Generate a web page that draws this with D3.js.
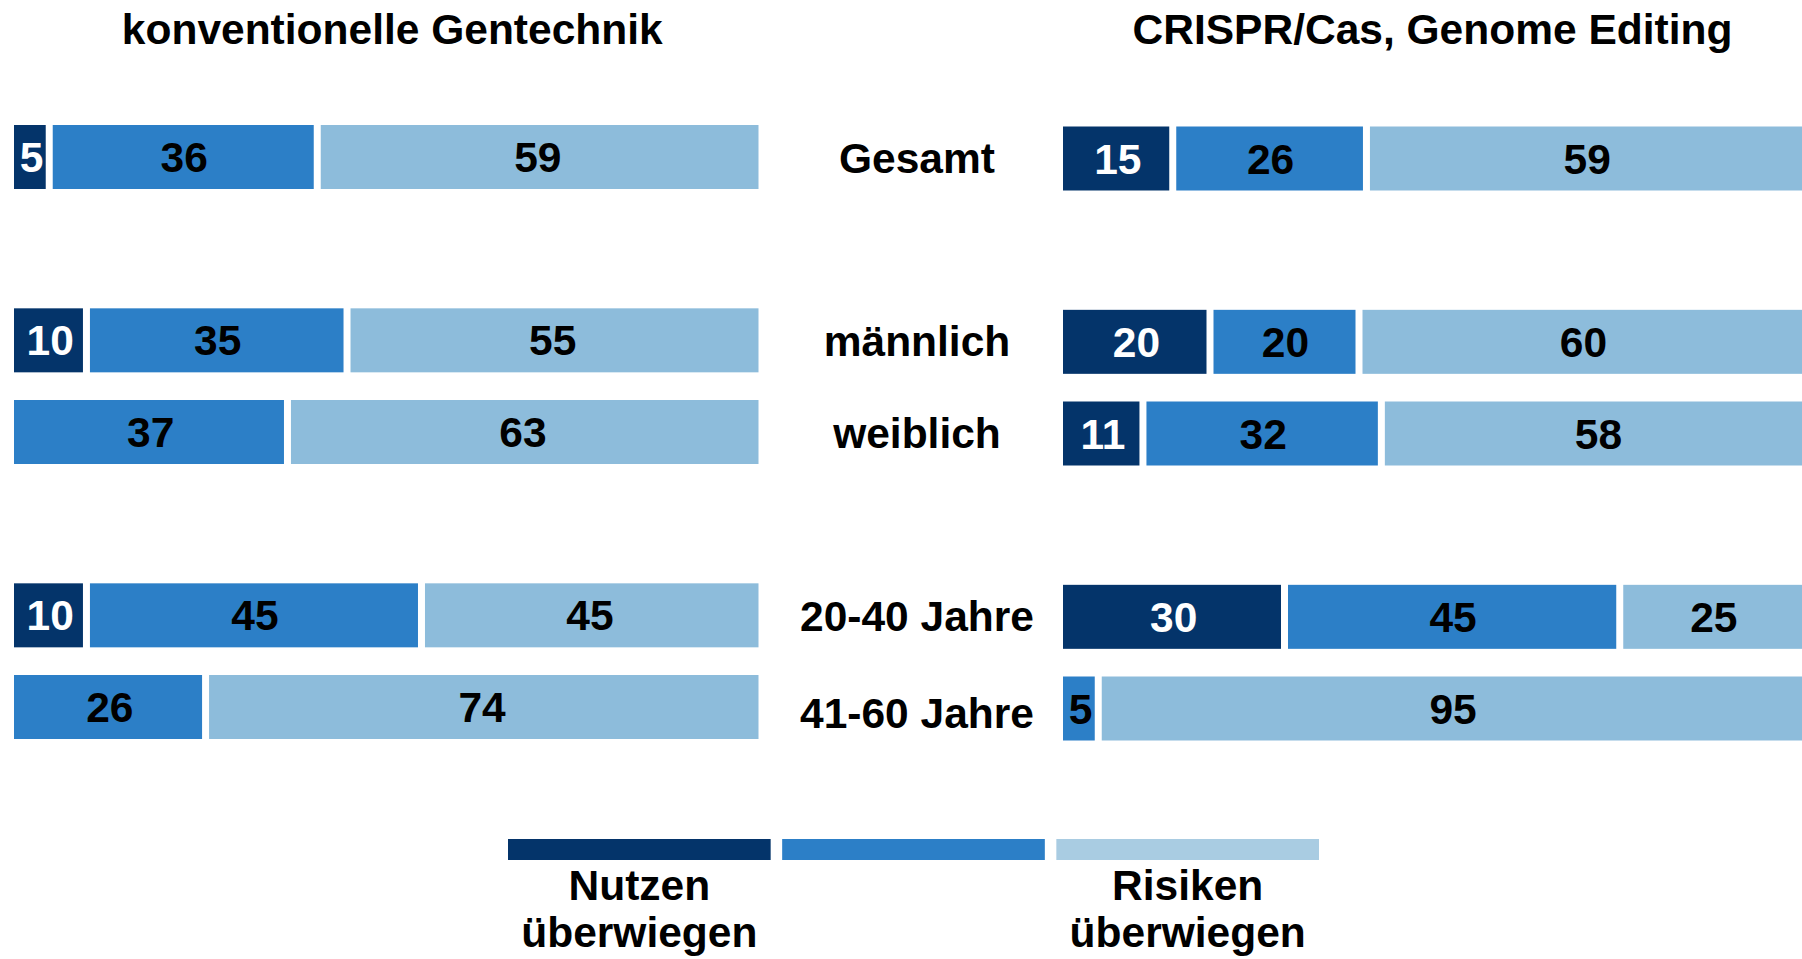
<!DOCTYPE html>
<html>
<head>
    <meta charset="utf-8">
    <style>
        body { margin: 0; background: #fff; }
        text { font-family: "Liberation Sans", Arial, Helvetica, sans-serif; font-weight: bold; }
    </style>
</head>
<body>
    <svg width="1802" height="959"></svg>

<script src="https://d3js.org/d3.v7.min.js"></script>
<script>
    // rows, with the empty slots between the groups
    const groups = ["Gesamt", "männlich", "weiblich", "20-40 Jahre", "41-60 Jahre"];
    const rowSlots = [0, 2, 3, 5, 6];

    // konventionelle Gentechnik (percent)
    const konvNutzen = [5, 10, 0, 10, 0];
    const konvMitte = [36, 35, 37, 45, 26];
    const konvRisiken = [59, 55, 63, 45, 74];

    // CRISPR/Cas, Genome Editing (percent)
    const crisprNutzen = [15, 20, 11, 30, 0];
    const crisprMitte = [26, 20, 32, 45, 5];
    const crisprRisiken = [59, 60, 58, 25, 95];

    const panelTitles = ["konventionelle Gentechnik", "CRISPR/Cas, Genome Editing"];
    const legendLabels = [["Nutzen", "überwiegen"], [], ["Risiken", "überwiegen"]];

    const colors = ["#04346a", "#2c7fc7", "#8dbcdb"];
    const legendColors = ["#04346a", "#2c7fc7", "#a9cce2"];
    const labelColors = ["#fff", "#000", "#000"];

    let svg = d3.select("svg");
    let fontSize = 42.5;
    let barH = 64;
    // white gap between segments, mostly cut from the end of the previous one
    let gapEnd = 5.5;
    let gapStart = 1.5;

    let y = d3.scaleLinear().domain([0, 6]).range([125, 675]);

    let panels = [
        { x: d3.scaleLinear().domain([0, 100]).range([14, 758.5]), dy: 0,
          series: [konvNutzen, konvMitte, konvRisiken] },
        { x: d3.scaleLinear().domain([0, 100]).range([1063, 1808]), dy: 1.5,
          series: [crisprNutzen, crisprMitte, crisprRisiken] }
    ];

    panels.forEach((p, pi) => {
        // title
        let r = p.x.range();
        svg.append("text")
            .attr("x", (r[0] + Math.min(r[1], 1802)) / 2 + (pi == 0 ? 6 : 0))
            .attr("y", 44)
            .attr("text-anchor", "middle")
            .style("font-size", fontSize + "px")
            .text(panelTitles[pi]);

        // stack segments per row
        let segs = [];
        groups.forEach((g, i) => {
            let start = 0;
            p.series.forEach((s, k) => {
                let v = s[i];
                if (v > 0) segs.push({ row: i, k: k, v: v, start: start, end: start + v });
                start += v;
            });
        });

        let gSeg = svg.append("g").attr("class", "panel-" + pi);

        gSeg.selectAll("rect")
            .data(segs)
            .join("rect")
            .attr("x", d => p.x(d.start) + (d.start > 0 ? gapStart : 0))
            .attr("width", d => p.x(d.end) - p.x(d.start) - (d.start > 0 ? gapStart : 0) - (d.end < 100 ? gapEnd : 0))
            .attr("y", d => y(rowSlots[d.row]) + p.dy)
            .attr("height", barH)
            .style("fill", d => colors[d.k]);

        gSeg.selectAll("text")
            .data(segs)
            .join("text")
            .attr("x", d => (p.x(d.start) + p.x(d.end)) / 2 - 1)
            .attr("y", d => y(rowSlots[d.row]) + p.dy + barH / 2 + 15)
            .attr("text-anchor", "middle")
            .style("font-size", fontSize + "px")
            .style("fill", d => labelColors[d.k])
            .text(d => d.v);
    });

    // row labels in the middle
    svg.selectAll(".rowlabel")
        .data(groups)
        .join("text")
        .attr("class", "rowlabel")
        .attr("x", 917)
        .attr("y", (d, i) => y(rowSlots[i]) + barH / 2 + (i == 4 ? 21 : 16))
        .attr("text-anchor", "middle")
        .style("font-size", fontSize + "px")
        .text(d => d);

    // legend
    let lx = d3.scaleBand().domain([0, 1, 2]).range([508, 1319]).paddingInner(0.042);

    svg.selectAll(".legend")
        .data(legendColors)
        .join("rect")
        .attr("class", "legend")
        .attr("x", (d, i) => lx(i))
        .attr("y", 839)
        .attr("width", lx.bandwidth())
        .attr("height", 21)
        .style("fill", d => d);

    legendLabels.forEach((lines, i) => {
        lines.forEach((t, j) => {
            svg.append("text")
                .attr("x", lx(i) + lx.bandwidth() / 2)
                .attr("y", 900 + j * 47)
                .attr("text-anchor", "middle")
                .style("font-size", fontSize + "px")
                .text(t);
        });
    });
</script>
</body>
</html>
